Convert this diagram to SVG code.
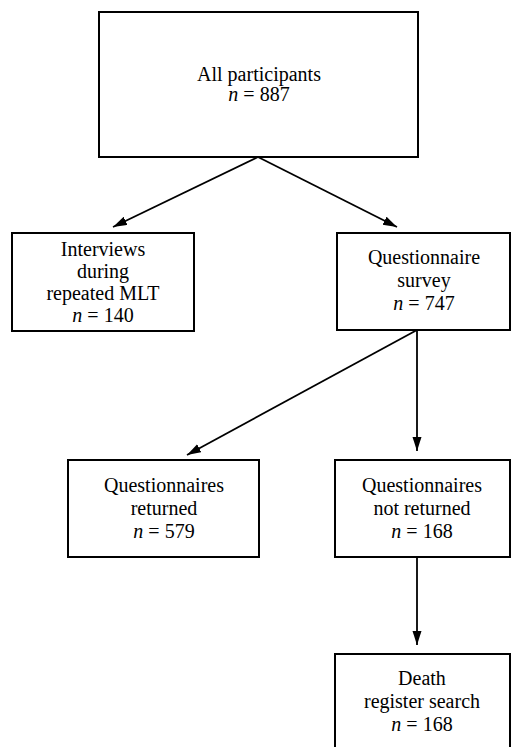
<svg xmlns="http://www.w3.org/2000/svg" width="511" height="747" viewBox="0 0 511 747">
  <style>
    .box { fill: #ffffff; stroke: #000000; stroke-width: 2; }
    .lbl { font-family: "Liberation Serif", "Times New Roman", serif; font-size: 20px; fill: #000000; text-anchor: middle; }
    .it { font-style: italic; }
    .conn { stroke: #000000; stroke-width: 1.8; fill: none; marker-end: url(#arr); }
  </style>
  <defs>
    <marker id="arr" markerUnits="userSpaceOnUse" markerWidth="15" markerHeight="10" refX="14" refY="4.5" orient="auto">
      <path d="M0,0 L14,4.5 L0,9 Z" fill="#000000"/>
    </marker>
  </defs>
  <rect width="511" height="747" fill="#ffffff"/>

  <g id="connectors">
    <line class="conn" x1="258" y1="157" x2="113" y2="227"/>
    <line class="conn" x1="258" y1="157" x2="397" y2="227"/>
    <line class="conn" x1="417" y1="330" x2="187" y2="455"/>
    <line class="conn" x1="417" y1="330" x2="417" y2="451"/>
    <line class="conn" x1="417" y1="557" x2="417" y2="645"/>
  </g>

  <g id="all-participants">
    <rect class="box" x="99" y="12" width="319" height="145"/>
    <text class="lbl" x="259" y="81">All participants</text>
    <text class="lbl" x="259" y="101"><tspan class="it">n</tspan> = 887</text>
  </g>

  <g id="interviews">
    <rect class="box" x="12" y="233" width="182" height="98"/>
    <text class="lbl" x="103" y="256">Interviews</text>
    <text class="lbl" x="103" y="278">during</text>
    <text class="lbl" x="103" y="300">repeated MLT</text>
    <text class="lbl" x="103" y="322"><tspan class="it">n</tspan> = 140</text>
  </g>

  <g id="questionnaire-survey">
    <rect class="box" x="337" y="233" width="173" height="97"/>
    <text class="lbl" x="424" y="264">Questionnaire</text>
    <text class="lbl" x="424" y="287">survey</text>
    <text class="lbl" x="424" y="310"><tspan class="it">n</tspan> = 747</text>
  </g>

  <g id="questionnaires-returned">
    <rect class="box" x="68" y="460" width="191" height="97"/>
    <text class="lbl" x="164" y="492">Questionnaires</text>
    <text class="lbl" x="164" y="515">returned</text>
    <text class="lbl" x="164" y="538"><tspan class="it">n</tspan> = 579</text>
  </g>

  <g id="questionnaires-not-returned">
    <rect class="box" x="335" y="460" width="175" height="97"/>
    <text class="lbl" x="422" y="492">Questionnaires</text>
    <text class="lbl" x="422" y="515">not returned</text>
    <text class="lbl" x="422" y="538"><tspan class="it">n</tspan> = 168</text>
  </g>

  <g id="death-register-search">
    <rect class="box" x="335" y="654" width="175" height="100"/>
    <text class="lbl" x="422" y="685">Death</text>
    <text class="lbl" x="422" y="708">register search</text>
    <text class="lbl" x="422" y="731"><tspan class="it">n</tspan> = 168</text>
  </g>
</svg>
